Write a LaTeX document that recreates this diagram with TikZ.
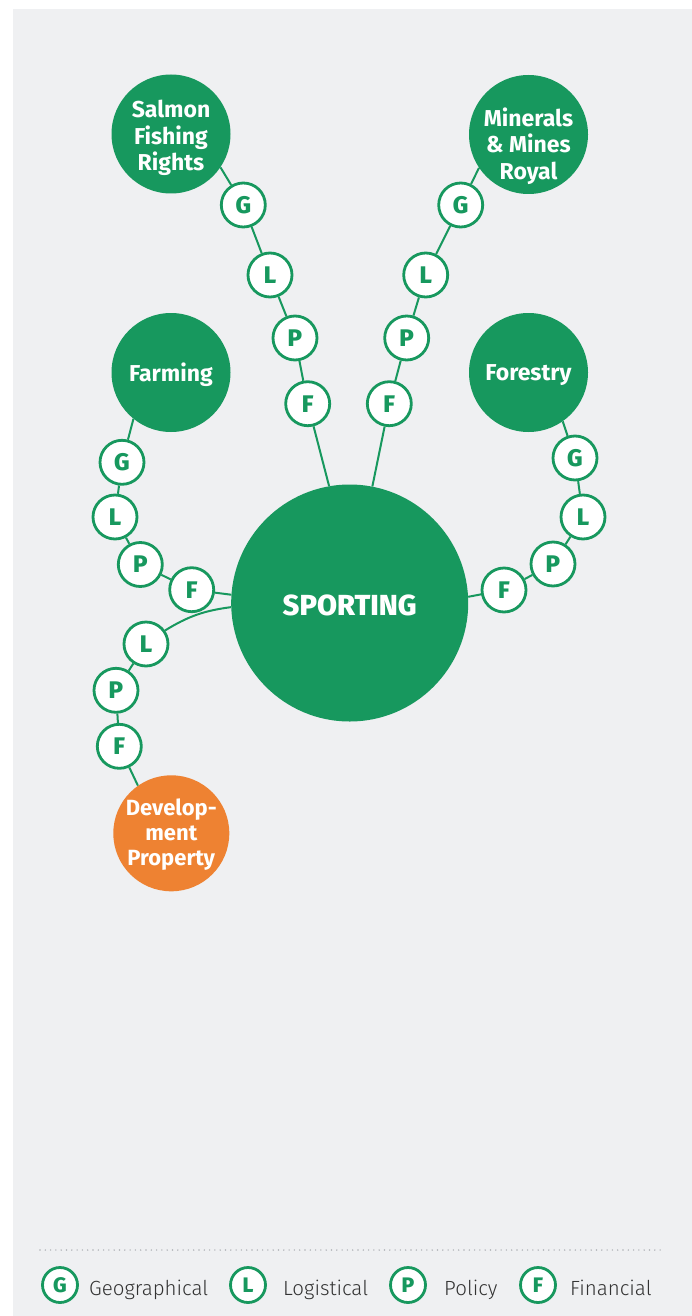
\documentclass[tikz,border=0pt]{standalone}
\usepackage{fontspec}
\setmainfont{Fira Sans}
\newfontfamily\heavyfont{Fira Sans ExtraBold}
\newfontfamily\lightfont{Fira Sans Light}
\definecolor{sgreen}{RGB}{23,152,94}
\definecolor{sorange}{RGB}{238,130,50}
\definecolor{panel}{RGB}{239,240,242}
\definecolor{ink}{RGB}{51,51,51}
\definecolor{dots}{RGB}{175,178,182}
\begin{document}
\begin{tikzpicture}[x=1pt,y=-1pt,
  big/.style={circle, fill=sgreen, minimum size=119pt, inner sep=0pt},
  bigtext/.style={text=white, align=center, inner sep=0pt,
              font=\fontsize{23}{26.5}\selectfont\bfseries},
  hub/.style={circle, fill=sgreen, text=white, minimum size=237pt, inner sep=0pt,
              font=\fontsize{29}{34}\selectfont\heavyfont},
  tag/.style={circle, draw=sgreen, line width=2.8pt, fill=white, text=sgreen, minimum size=44pt,
              inner sep=0pt, font=\fontsize{24}{26}\selectfont\heavyfont},
  keytag/.style={tag, minimum size=35pt, font=\fontsize{21}{23}\selectfont\heavyfont},
  link/.style={draw=sgreen, line width=2pt},
  keytext/.style={anchor=base west, text=ink, inner sep=0pt, font=\fontsize{20.5}{24}\selectfont\lightfont}]
\useasboundingbox (0,0) rectangle (692,1316);
\fill[white] (0,0) rectangle (692,1316);
\fill[panel] (13,9) rectangle (692,1316);

% main circles
\node[hub] (hub) at (349.7,603) {};
\node[text=white, font=\fontsize{29}{34}\selectfont\heavyfont, inner sep=0pt] (hubText) at (349.7,605.5) {SPORTING};
\node[big] (salmon) at (171,134) {};
\node[bigtext] (salmonText) at (171,138) {Salmon\\Fishing\\Rights};
\node[big] (minerals) at (528.5,134.5) {};
\node[bigtext] (mineralsText) at (528.5,146) {Minerals\\\&~Mines\\Royal};
\node[big] (farming) at (171,372.5) {};
\node[bigtext] (farmingText) at (171,375) {Farming};
\node[big] (forestry) at (528.5,372.5) {};
\node[bigtext] (forestryText) at (528.5,375.5) {Forestry};
\node[big, fill=sorange, minimum size=116pt] (dev) at (171.3,833.3) {};
\node[bigtext, font=\fontsize{22}{25}\selectfont\bfseries] (devText) at (171.3,835) {Develop-\\ment\\Property};

% salmon chain
\node[tag] (sG) at (243.3,205) {G};
\node[tag] (sL) at (270,275) {L};
\node[tag] (sP) at (295,338) {P};
\node[tag] (sF) at (307.7,403.7) {F};
% minerals chain
\node[tag] (mG) at (460.7,205) {G};
\node[tag] (mL) at (425.7,275) {L};
\node[tag] (mP) at (406.7,338) {P};
\node[tag] (mF) at (389.3,403.7) {F};
% farming chain
\node[tag] (fG) at (122,462.3) {G};
\node[tag] (fL) at (115,517) {L};
\node[tag] (fP) at (140.3,564.5) {P};
\node[tag] (fF) at (191.7,589.7) {F};
% forestry chain
\node[tag] (oG) at (575,458) {G};
\node[tag] (oL) at (583,517) {L};
\node[tag] (oP) at (553,564) {P};
\node[tag] (oF) at (504,590) {F};
% development chain
\node[tag] (dL) at (146,644) {L};
\node[tag] (dP) at (116,690.3) {P};
\node[tag] (dF) at (119.3,746.3) {F};

% connectors
\draw[link] (salmon.-34) -- (sG);
\draw[link] (sG) -- (sL);
\draw[link] (sL) -- (sP);
\draw[link] (sP) -- (sF);
\draw[link] (sF) -- (hub.100.5);

\draw[link] (minerals.214.5) -- (mG);
\draw[link] (mG) -- (mL);
\draw[link] (mL) -- (mP);
\draw[link] (mP) -- (mF);
\draw[link] (mF) -- (hub.79.4);

\draw[link] (farming.231.3) -- (fG);
\draw[link] (fG) -- (fL);
\draw[link] (fL) -- (fP);
\draw[link] (fP) -- (fF);
\draw[link] (fF) -- (hub.176.7);

\draw[link] (forestry.-55) -- (oG);
\draw[link] (oG) -- (oL);
\draw[link] (oL) -- (oP);
\draw[link] (oP) -- (oF);
\draw[link] (oF) -- (hub.3.1);

\draw[link] (hub.182.8) to[bend right=12] (dL);
\draw[link] (dL) -- (dP);
\draw[link] (dP) -- (dF);
\draw[link] (dF) -- (dev.125);

% legend
\draw[dots, line width=1.6pt, line cap=round, dash pattern=on 0pt off 5.3pt] (40,1250) -- (664,1250);
\node[keytag] (kG) at (60,1285) {G};
\node[keytext] (tG) at (89,1295) {Geographical};
\node[keytag] (kL) at (248,1285) {L};
\node[keytext] (tL) at (283,1295) {Logistical};
\node[keytag] (kP) at (408,1285) {P};
\node[keytext] (tP) at (444,1295) {Policy};
\node[keytag] (kF) at (538,1285) {F};
\node[keytext] (tF) at (570,1295) {Financial};
\end{tikzpicture}
\end{document}
